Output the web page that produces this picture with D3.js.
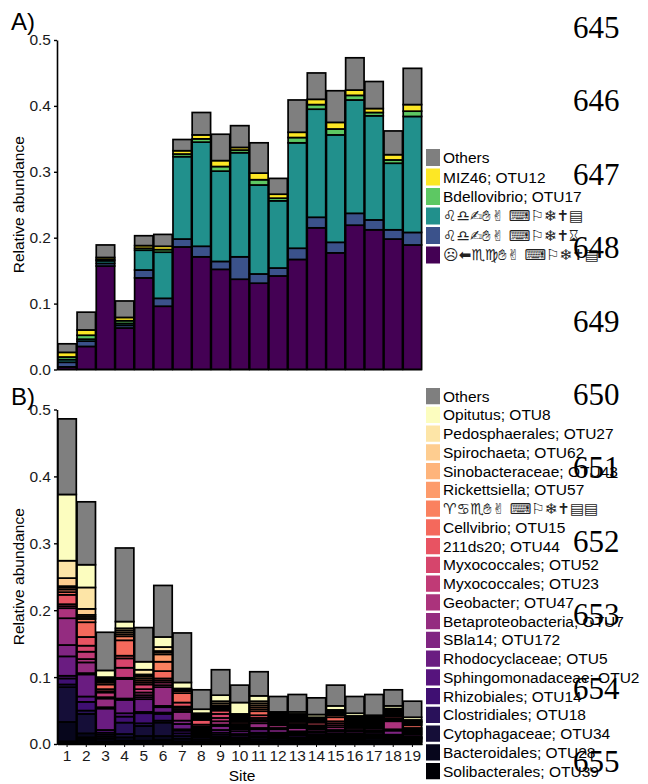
<!DOCTYPE html>
<html>
<head>
<meta charset="utf-8">
<script src="https://cdn.jsdelivr.net/npm/d3@7"></script>
<style>
  body { margin: 0; background: #fff; }
  svg { display: block; font-family: "Liberation Sans", Arial, sans-serif; }
</style>
</head>
<body>
<div id="container"></div>
<script>
// sites on the x axis
var sites = ['1','2','3','4','5','6','7','8','9','10','11','12','13','14','15','16','17','18','19'];

// panel A, bottom to top
var labelsA = ['\u2639\u2B05\u264F\u264D\u270B\u270C \u2328\u2690\u2744\u271D\u25A4',
               '\u264C\u264E\u270D\u270B\u270C \u2328\u2690\u2744\u271D\u231B',
               '\u264C\u264E\u270D\u270B\u270C \u2328\u2690\u2744\u271D\u25A4',
               'Bdellovibrio; OTU17', 'MIZ46; OTU12', 'Others'];
var purpleA = [.004,.035,.157,.063,.139,.096,.186,.171,.152,.137,.131,.142,.167,.215,.177,.219,.212,.198,.189];
var blueA   = [.007,.008,.004,.004,.012,.012,.012,.016,.012,.034,.014,.012,.017,.016,.016,.018,.015,.014,.019];
var tealA   = [.004,.003,.004,.003,.030,.070,.125,.158,.137,.158,.135,.102,.160,.164,.163,.172,.158,.101,.176];
var greenA  = [.004,.006,.002,.004,.003,.004,.004,.005,.007,.004,.008,.004,.008,.007,.009,.007,.005,.005,.008];
var yellowA = [.007,.008,.003,.005,.004,.005,.005,.006,.009,.004,.010,.006,.008,.008,.010,.008,.006,.008,.010];
var othersA = [.013,.027,.019,.025,.015,.018,.017,.034,.040,.033,.046,.024,.049,.040,.048,.049,.041,.036,.055];

// panel B, bottom to top
var labelsB = ['Solibacterales; OTU39', 'Bacteroidales; OTU28', 'Cytophagaceae; OTU34', 'Clostridiales; OTU18',
  'Rhizobiales; OTU14', 'Sphingomonadaceae; OTU2', 'Rhodocyclaceae; OTU5', 'SBla14; OTU172',
  'Betaproteobacteria; OTU7', 'Geobacter; OTU47', 'Myxococcales; OTU23', 'Myxococcales; OTU52',
  '211ds20; OTU44', 'Cellvibrio; OTU15', '\u2648\u264B\u264F\u270B\u270C \u2328\u2690\u2744\u271D\u25A4\u25A4',
  'Rickettsiella; OTU57', 'Sinobacteraceae; OTU43', 'Spirochaeta; OTU62', 'Pedosphaerales; OTU27',
  'Opitutus; OTU8', 'Others'];
var soliB    = [.004,.010,.004,.005,.005,.006,.004,.004,.004,.003,.004,.003,.003,.003,.003,.003,.003,.003,.003];
var bactB    = [.029,.006,.004,.005,.007,.006,.004,.003,.003,.003,.003,.003,.003,.003,.003,.003,.003,.003,.002];
var cytoB    = [.052,.029,.003,.005,.015,.020,.004,.003,.002,.002,.003,.003,.002,.002,.002,.002,.003,.002,.002];
var clostB   = [.004,.005,.003,.017,.004,.003,.004,.002,.002,.002,.002,.002,.002,.002,.002,.002,.002,.002,.001];
var rhizoB   = [.009,.013,.003,.009,.015,.010,.004,.002,.003,.003,.003,.002,.003,.002,.002,.002,.002,.001,.001];
var sphingoB = [.004,.008,.004,.005,.002,.002,.002,.002,.003,.002,.002,.002,.002,.002,.002,.002,.002,.001,.001];
var rhodoB   = [.029,.033,.032,.020,.019,.008,.008,.002,.004,.004,.005,.002,.002,.003,.002,.002,.003,.002,.001];
var sblaB    = [.017,.002,.002,.002,.003,.002,.005,.002,.006,.003,.002,.005,.002,.002,.003,.003,.002,.006,.003];
var betaB    = [.040,.016,.013,.029,.003,.028,.013,.002,.002,.002,.007,.002,.005,.003,.002,.002,.003,.002,.002];
var geobB    = [.015,.005,.002,.002,.004,.003,.003,.002,.005,.002,.003,.004,.002,.002,.004,.003,.002,.012,.002];
var myxo23B  = [.003,.011,.007,.015,.005,.004,.003,.002,.005,.002,.002,.002,.002,.002,.003,.002,.002,.002,.002];
var myxo52B  = [.003,.009,.002,.014,.007,.003,.002,.003,.006,.002,.003,.002,.002,.002,.003,.002,.002,.002,.002];
var ds20B    = [.014,.013,.003,.004,.003,.003,.006,.007,.005,.003,.004,.002,.003,.004,.003,.002,.002,.003,.002];
var cellvB   = [.004,.022,.007,.023,.003,.011,.014,.002,.002,.002,.006,.002,.002,.002,.006,.002,.002,.002,.004];
var odd57B   = [.004,.005,.003,.006,.003,.014,.003,.002,.002,.002,.003,.002,.002,.002,.003,.002,.002,.002,.002];
var rickB    = [.003,.003,.002,.003,.003,.011,.001,.002,.002,.002,.003,.002,.002,.001,.002,.002,.002,.002,.002];
var sinoB    = [.002,.003,.002,.003,.002,.003,.001,.002,.002,.002,.003,.002,.002,.001,.002,.002,.002,.002,.001];
var spiroB   = [.012,.009,.002,.003,.001,.002,.001,.001,.003,.002,.003,.002,.002,.001,.002,.002,.001,.002,.001];
var pedoB    = [.026,.032,.002,.003,.007,.006,.001,.001,.003,.002,.003,.002,.002,.001,.002,.002,.001,.002,.002];
var opitB    = [.099,.034,.010,.010,.012,.015,.009,.006,.009,.017,.008,.002,.003,.004,.006,.004,.002,.004,.004];
var othersB  = [.113,.094,.057,.110,.051,.077,.074,.029,.038,.026,.036,.023,.026,.025,.031,.025,.031,.024,.024];

var yTicks = [0, 0.1, 0.2, 0.3, 0.4, 0.5];
var lineNums = ['645','646','647','648','649','650','651','652','653','654','655'];

var seriesA = [purpleA, blueA, tealA, greenA, yellowA, othersA];
var seriesB = [soliB, bactB, cytoB, clostB, rhizoB, sphingoB, rhodoB, sblaB, betaB, geobB, myxo23B, myxo52B,
               ds20B, cellvB, odd57B, rickB, sinoB, spiroB, pedoB, opitB, othersB];

var colorsA = ['#440154', '#3B528B', '#21908C', '#5DC863', '#FDE725', '#7F7F7F'];
var colorsB = d3.range(20).map(function(i) { return d3.interpolateMagma(i / 19); });
colorsB.push('#7F7F7F');

var svg = d3.select('#container').append('svg')
  .attr('width', 648).attr('height', 784);

var x = d3.scaleBand().domain(sites).range([57.5, 422]).paddingInner(0.04).paddingOuter(0.02);

function toRows(series) {
  return sites.map(function(s, i) {
    var row = { site: s };
    series.forEach(function(arr, k) { row['k' + k] = arr[i]; });
    return row;
  });
}

// symbols get a text-presentation selector so they stay monochrome
function textStyle(s) {
  return s.replace(/([\u2300-\u2BFF])/g, '$1\uFE0E');
}

function panel(opts) {
  var y = d3.scaleLinear().domain([0, 0.5]).range([opts.y0, opts.y1]);
  var keys = opts.series.map(function(d, k) { return 'k' + k; });
  var stacked = d3.stack().keys(keys)(toRows(opts.series));

  var g = svg.append('g');
  g.selectAll('g.layer')
    .data(stacked)
    .enter().append('g')
      .attr('fill', function(d, k) { return opts.colors[k]; })
    .selectAll('rect')
    .data(function(d) { return d; })
    .enter().append('rect')
      .attr('x', function(d) { return x(d.data.site); })
      .attr('width', x.bandwidth())
      .attr('y', function(d) { return y(d[1]); })
      .attr('height', function(d) { return y(d[0]) - y(d[1]); })
      .attr('stroke', '#000')
      .attr('stroke-width', 1.7);

  var ax = svg.append('g')
    .attr('transform', 'translate(57,0)')
    .call(d3.axisLeft(y).tickValues(yTicks).tickFormat(d3.format('.1f')).tickSize(3).tickSizeOuter(0).tickPadding(3));
  ax.select('.domain').attr('stroke-width', 1.6);
  ax.selectAll('.tick line').attr('stroke-width', 1.4);
  ax.selectAll('text').attr('font-size', 15.5).attr('fill', '#1a1a1a').attr('font-family', 'Liberation Sans, Arial, sans-serif');

  svg.append('text')
    .attr('transform', 'translate(24,' + ((opts.y0 + opts.y1) / 2) + ') rotate(-90)')
    .attr('text-anchor', 'middle')
    .attr('font-size', 15.5)
    .text('Relative abundance');

  svg.append('text')
    .attr('x', 11).attr('y', opts.tagY)
    .attr('font-size', 24)
    .text(opts.tag);

  // legend, top entry = last series
  var lg = svg.append('g');
  var n = opts.labels.length;
  opts.labels.forEach(function(lab, k) {
    var row = n - 1 - k;
    var ty = opts.legTop + row * opts.legStep;
    var odd = /[\u2300-\u2BFF]/.test(lab);
    lg.append('rect')
      .attr('x', 426).attr('y', ty)
      .attr('width', 14).attr('height', opts.legStep - 2.5)
      .attr('fill', opts.colors[k]);
    lg.append('text')
      .attr('x', 443).attr('y', ty + (opts.legStep - 2.5) / 2)
      .attr('dy', '0.36em')
      .attr('font-size', odd ? 15 : 15.5)
      .attr('font-family', odd ? 'DejaVu Sans, sans-serif' : null)
      .attr('fill', odd ? '#222' : null)
      .text(textStyle(lab));
  });
  return y;
}

panel({ series: seriesA, colors: colorsA, labels: labelsA, y0: 369.5, y1: 40,
        tag: 'A)', tagY: 30, legTop: 149, legStep: 19.5 });

panel({ series: seriesB, colors: colorsB, labels: labelsB, y0: 744, y1: 409.5,
        tag: 'B)', tagY: 405, legTop: 388, legStep: 18.75 });

// x axis line for panel A
svg.append('line')
  .attr('x1', 57).attr('x2', 422).attr('y1', 369.5).attr('y2', 369.5)
  .attr('stroke', '#000').attr('stroke-width', 1.6);

var xb = svg.append('g')
  .attr('transform', 'translate(0,744)')
  .call(d3.axisBottom(x).tickSize(3).tickSizeOuter(0).tickPadding(3));
xb.select('.domain').attr('stroke-width', 1.6);
xb.selectAll('text').attr('font-size', 15.5).attr('fill', '#1a1a1a').attr('font-family', 'Liberation Sans, Arial, sans-serif');

svg.append('text')
  .attr('x', 242).attr('y', 781)
  .attr('text-anchor', 'middle')
  .attr('font-size', 15.5)
  .text('Site');

// line numbers of the manuscript page
svg.selectAll('text.lineno')
  .data(lineNums)
  .enter().append('text')
    .attr('class', 'lineno')
    .attr('x', 573)
    .attr('y', function(d, i) { return 38 + i * 73.4; })
    .attr('font-family', 'Liberation Serif, Times New Roman, serif')
    .attr('font-size', 31)
    .text(function(d) { return d; });
</script>
</body>
</html>
